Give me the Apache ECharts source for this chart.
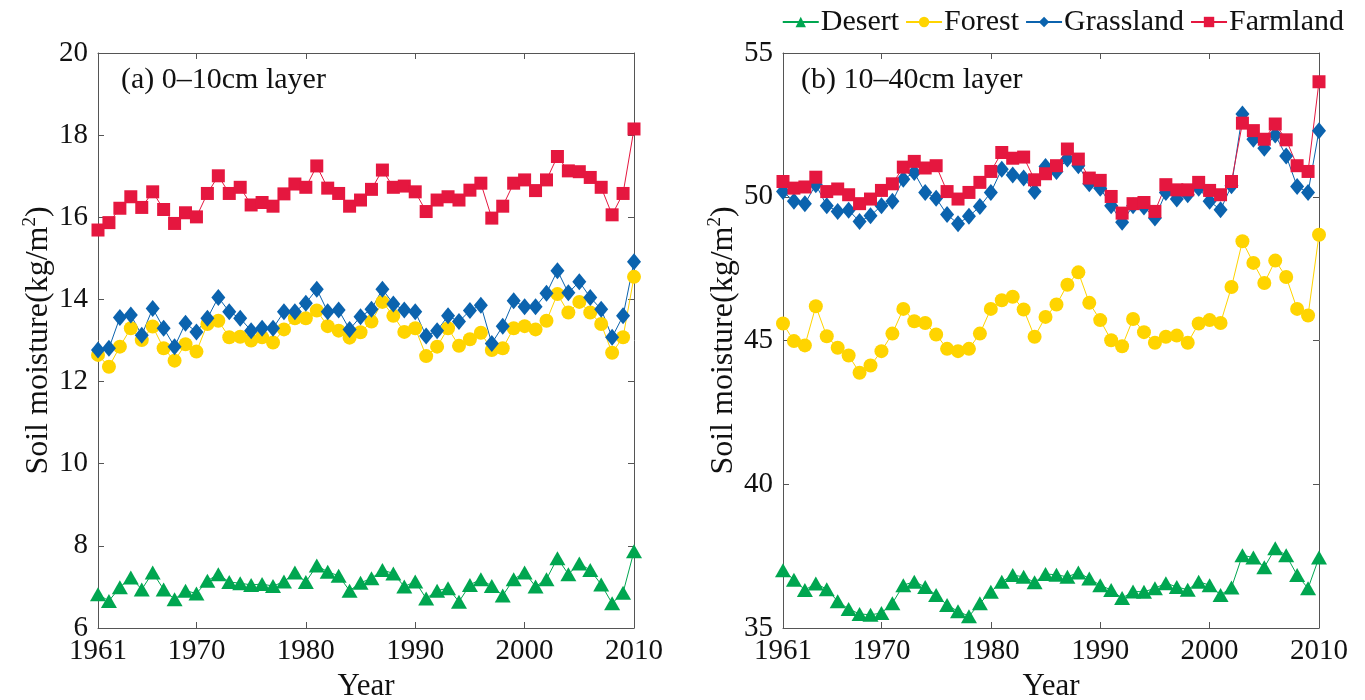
<!DOCTYPE html>
<html><head><meta charset="utf-8">
<script src="https://cdn.jsdelivr.net/npm/echarts@6/dist/echarts.min.js"></script>
<style>html,body{margin:0;padding:0;background:#fff}#c{width:1365px;height:700px}</style>
</head><body><div id="c"></div>
<script>
const years = [1961,1962,1963,1964,1965,1966,1967,1968,1969,1970,
1971,1972,1973,1974,1975,1976,1977,1978,1979,1980,
1981,1982,1983,1984,1985,1986,1987,1988,1989,1990,
1991,1992,1993,1994,1995,1996,1997,1998,1999,2000,
2001,2002,2003,2004,2005,2006,2007,2008,2009,2010];
const xTickValues = [1961,1970,1980,1990,2000,2010];
const seriesNames = ['Desert','Forest','Grassland','Farmland'];

const desertA = [6.82,6.66,6.99,7.23,6.94,7.35,6.94,6.70,6.91,6.84,7.15,7.31,7.12,7.09,7.05,7.07,7.02,7.13,7.35,7.12,7.52,7.37,7.27,6.91,7.10,7.21,7.41,7.33,7.01,7.13,6.72,6.91,6.97,6.64,7.05,7.19,7.02,6.79,7.19,7.35,7.01,7.19,7.70,7.31,7.57,7.41,7.06,6.60,6.86,7.87];
const forestA = [12.65,12.36,12.85,13.30,13.01,13.34,12.81,12.51,12.91,12.73,13.40,13.48,13.08,13.09,13.00,13.08,12.95,13.27,13.54,13.54,13.73,13.35,13.24,13.07,13.20,13.46,13.94,13.60,13.21,13.30,12.62,12.85,13.30,12.87,13.03,13.19,12.77,12.81,13.30,13.35,13.27,13.48,14.13,13.68,13.94,13.68,13.40,12.70,13.08,14.55];
const grassA = [12.77,12.81,13.56,13.62,13.13,13.78,13.30,12.85,13.42,13.21,13.54,14.05,13.70,13.54,13.24,13.30,13.30,13.70,13.70,13.91,14.25,13.70,13.74,13.27,13.58,13.76,14.25,13.89,13.74,13.70,13.11,13.24,13.60,13.46,13.73,13.86,12.93,13.35,13.97,13.82,13.82,14.15,14.70,14.16,14.43,14.05,13.76,13.08,13.60,14.92];
const farmA = [15.69,15.87,16.22,16.50,16.24,16.62,16.19,15.85,16.11,16.01,16.58,17.01,16.58,16.73,16.30,16.36,16.27,16.57,16.81,16.73,17.25,16.71,16.58,16.27,16.42,16.68,17.15,16.73,16.76,16.62,16.14,16.42,16.50,16.42,16.66,16.83,15.98,16.27,16.83,16.91,16.65,16.91,17.48,17.13,17.11,16.97,16.73,16.06,16.58,18.15];

const desertB = [37.01,36.68,36.32,36.55,36.35,35.93,35.66,35.49,35.46,35.52,35.86,36.49,36.61,36.43,36.15,35.80,35.58,35.41,35.86,36.26,36.61,36.84,36.78,36.59,36.88,36.85,36.78,36.93,36.72,36.49,36.32,36.04,36.27,36.26,36.38,36.56,36.43,36.33,36.61,36.49,36.15,36.41,37.53,37.45,37.11,37.77,37.53,36.84,36.38,37.45];
const forestB = [45.59,44.98,44.83,46.19,45.15,44.75,44.48,43.88,44.13,44.63,45.24,46.10,45.67,45.61,45.21,44.71,44.63,44.71,45.24,46.10,46.40,46.52,46.08,45.13,45.82,46.25,46.94,47.37,46.31,45.71,45.01,44.80,45.75,45.29,44.92,45.13,45.17,44.92,45.59,45.71,45.61,46.86,48.45,47.70,47.00,47.78,47.21,46.10,45.87,48.68];
const grassB = [50.18,49.84,49.76,50.42,49.69,49.49,49.53,49.14,49.34,49.69,49.84,50.61,50.84,50.15,49.95,49.38,49.06,49.32,49.66,50.15,50.96,50.76,50.65,50.18,51.05,50.88,51.31,51.08,50.45,50.30,49.69,49.11,49.69,49.64,49.26,50.15,49.92,50.07,50.30,49.84,49.55,50.38,52.88,52.00,51.69,52.15,51.42,50.36,50.15,52.30];
const farmB = [50.53,50.30,50.34,50.68,50.18,50.27,50.07,49.76,49.92,50.22,50.45,51.03,51.23,51.00,51.08,50.18,49.92,50.15,50.50,50.88,51.54,51.34,51.38,50.59,50.80,51.08,51.66,51.31,50.65,50.57,50.01,49.43,49.76,49.80,49.49,50.42,50.24,50.24,50.50,50.22,50.07,50.53,52.56,52.30,52.00,52.53,51.98,51.08,50.88,54.00];

const FONT = 'Liberation Serif';
const TXT = '#111';
const AX = '#555';
const colors = ['#00A650','#FFD400','#0B63AE','#E5173F'];
const symbols = ['triangle','circle','diamond','rect'];
const symSizes = [[16,14],[14,14],[14,17],[13,13]];

function xAxes(gi){
  return [{
    type:'value', gridIndex:gi, min:1961, max:2010, position:'bottom',
    name:'Year', nameLocation:'middle', nameGap:43,
    nameTextStyle:{fontFamily:FONT,fontSize:31,color:TXT},
    axisLine:{show:true,lineStyle:{color:AX,width:1}},
    axisTick:{show:true,inside:true,length:6,customValues:xTickValues,lineStyle:{color:AX}},
    axisLabel:{customValues:xTickValues,fontFamily:FONT,fontSize:29,color:TXT,margin:9,
      formatter:function(v){return String(v);}},
    splitLine:{show:false}
  },{
    type:'value', gridIndex:gi, min:1961, max:2010, position:'top',
    axisLine:{show:true,lineStyle:{color:AX,width:1}},
    axisTick:{show:true,inside:true,length:6,customValues:xTickValues,lineStyle:{color:AX}},
    axisLabel:{show:false},
    splitLine:{show:false}
  }];
}
function yAxes(gi,min,max,interval){
  return [{
    type:'value', gridIndex:gi, min:min, max:max, interval:interval, position:'left',
    name:'Soil moisture(kg/m{sup|2})', nameLocation:'middle', nameGap:42,
    nameTextStyle:{fontFamily:FONT,fontSize:32,color:TXT,
      rich:{sup:{fontFamily:FONT,fontSize:19,color:TXT,verticalAlign:'top',padding:[0,0,16,0]}}},
    axisLine:{show:true,lineStyle:{color:AX,width:1}},
    axisTick:{show:true,inside:true,length:6,lineStyle:{color:AX}},
    axisLabel:{fontFamily:FONT,fontSize:29,color:TXT,margin:10},
    splitLine:{show:false}
  },{
    type:'value', gridIndex:gi, min:min, max:max, interval:interval, position:'right',
    axisLine:{show:true,lineStyle:{color:AX,width:1}},
    axisTick:{show:true,inside:true,length:6,lineStyle:{color:AX}},
    axisLabel:{show:false},
    splitLine:{show:false}
  }];
}
function mk(name,i,arr,gi){
  return {
    name:name, type:'line', xAxisIndex:gi*2, yAxisIndex:gi*2,
    data: years.map((y,k)=>[y,arr[k]]),
    symbol:symbols[i], symbolSize:symSizes[i], showSymbol:true,
    lineStyle:{color:colors[i],width:1},
    itemStyle:{color:colors[i]},
    animation:false
  };
}
const chart = echarts.init(document.getElementById('c'),null,{renderer:'canvas'});
chart.setOption({
  backgroundColor:'#fff',
  animation:false,
  grid:[
    {left:98,right:731,top:53,bottom:72,containLabel:false,outerBoundsMode:'none'},
    {left:783,right:46,top:53,bottom:72,containLabel:false,outerBoundsMode:'none'}
  ],
  title:[
    {text:'(a) 0–10cm layer',left:116,top:60,textStyle:{fontFamily:FONT,fontSize:30,fontWeight:'normal',color:TXT}},
    {text:'(b) 10–40cm layer',left:796,top:60,textStyle:{fontFamily:FONT,fontSize:30,fontWeight:'normal',color:TXT}}
  ],
  legend:{
    data:seriesNames, right:16, top:2, itemWidth:36, itemHeight:13, itemGap:6,
    textStyle:{fontFamily:FONT,fontSize:30,color:TXT,padding:[0,0,0,-3]}
  },
  xAxis:[...xAxes(0),...xAxes(1)],
  yAxis:[...yAxes(0,6,20,2),...yAxes(1,35,55,5)],
  series:[
    mk('Desert',0,desertA,0),mk('Forest',1,forestA,0),mk('Grassland',2,grassA,0),mk('Farmland',3,farmA,0),
    mk('Desert',0,desertB,1),mk('Forest',1,forestB,1),mk('Grassland',2,grassB,1),mk('Farmland',3,farmB,1)
  ]
});
</script></body></html>
